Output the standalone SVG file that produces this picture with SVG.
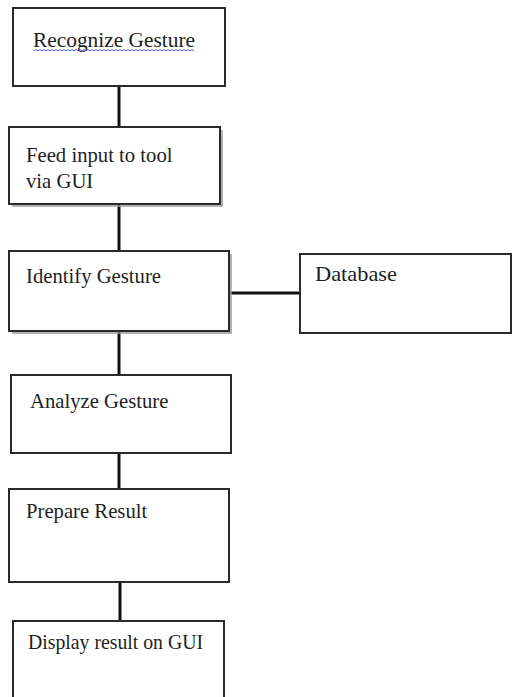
<svg xmlns="http://www.w3.org/2000/svg" width="512" height="697" viewBox="0 0 512 697">
<style>
.box{fill:#ffffff;stroke:#2a2a2a;stroke-width:2}
.shadow{fill:none;stroke:#9a9a9a;stroke-width:1.5}
.lbl{font-family:"Liberation Serif","Times New Roman",serif;font-size:20.7px;fill:#1e1e1e}
.conn{stroke:#111;stroke-width:3;fill:none}
</style>
<rect width="512" height="697" fill="#ffffff"/>
<g id="connectors">
<line class="conn" x1="119" y1="86" x2="119" y2="127"/>
<line class="conn" x1="119" y1="204" x2="119" y2="251"/>
<line class="conn" x1="229" y1="293" x2="300" y2="293"/>
<line class="conn" x1="119" y1="331" x2="119" y2="375"/>
<line class="conn" x1="119" y1="453" x2="119" y2="489"/>
<line class="conn" x1="120" y1="582" x2="120" y2="621" stroke-width="4"/>
</g>
<g id="recognize">
<rect class="box" x="13" y="8" width="212" height="78" stroke="#555"/>
<text class="lbl" x="33" y="47" textLength="162" lengthAdjust="spacingAndGlyphs" fill="#1c1c4a">Recognize Gesture</text>
<path d="M34 51
l2 -1.5 l2 1.5 l2 -1.5 l2 1.5 l2 -1.5 l2 1.5 l2 -1.5 l2 1.5 l2 -1.5 l2 1.5 l2 -1.5 l2 1.5 l2 -1.5 l2 1.5 l2 -1.5 l2 1.5 l2 -1.5 l2 1.5 l2 -1.5 l2 1.5
l2 -1.5 l2 1.5 l2 -1.5 l2 1.5 l2 -1.5 l2 1.5 l2 -1.5 l2 1.5 l2 -1.5 l2 1.5 l2 -1.5 l2 1.5 l2 -1.5 l2 1.5 l2 -1.5 l2 1.5 l2 -1.5 l2 1.5 l2 -1.5 l2 1.5
l2 -1.5 l2 1.5 l2 -1.5 l2 1.5 l2 -1.5 l2 1.5 l2 -1.5 l2 1.5 l2 -1.5 l2 1.5 l2 -1.5 l2 1.5 l2 -1.5 l2 1.5 l2 -1.5 l2 1.5 l2 -1.5 l2 1.5 l2 -1.5 l2 1.5
l2 -1.5 l2 1.5 l2 -1.5 l2 1.5 l2 -1.5 l2 1.5 l2 -1.5 l2 1.5 l2 -1.5 l2 1.5 l2 -1.5 l2 1.5 l2 -1.5 l2 1.5 l2 -1.5 l2 1.5 l2 -1.5 l2 1.5 l2 -1.5 l2 1.5" fill="none" stroke="#4a5ad0" stroke-width="1"/>
</g>
<g id="feed">
<polyline class="shadow" points="222,130 222,206 12,206"/>
<rect class="box" x="9" y="127" width="211" height="77"/>
<text class="lbl" x="26" y="162">Feed input to tool</text>
<text class="lbl" x="26" y="188">via GUI</text>
</g>
<g id="identify">
<polyline class="shadow" points="231,254 231,333 12,333"/>
<rect class="box" x="9" y="251" width="220" height="80"/>
<text class="lbl" x="26" y="283">Identify Gesture</text>
</g>
<g id="database">
<rect class="box" x="300" y="254" width="211" height="79" stroke="#444"/>
<text class="lbl" x="315" y="281" font-size="18" textLength="82" lengthAdjust="spacingAndGlyphs" fill="#2a2a2a">Database</text>
</g>
<g id="analyze">
<rect class="box" x="11" y="375" width="220" height="78"/>
<text class="lbl" x="30" y="408">Analyze Gesture</text>
</g>
<g id="prepare">
<rect class="box" x="9" y="489" width="220" height="93"/>
<text class="lbl" x="26" y="518">Prepare Result</text>
</g>
<g id="display">
<rect class="box" x="13" y="621" width="211" height="84" stroke="#444"/>
<text class="lbl" x="28" y="649" textLength="175" lengthAdjust="spacingAndGlyphs">Display result on GUI</text>
</g>
</svg>
